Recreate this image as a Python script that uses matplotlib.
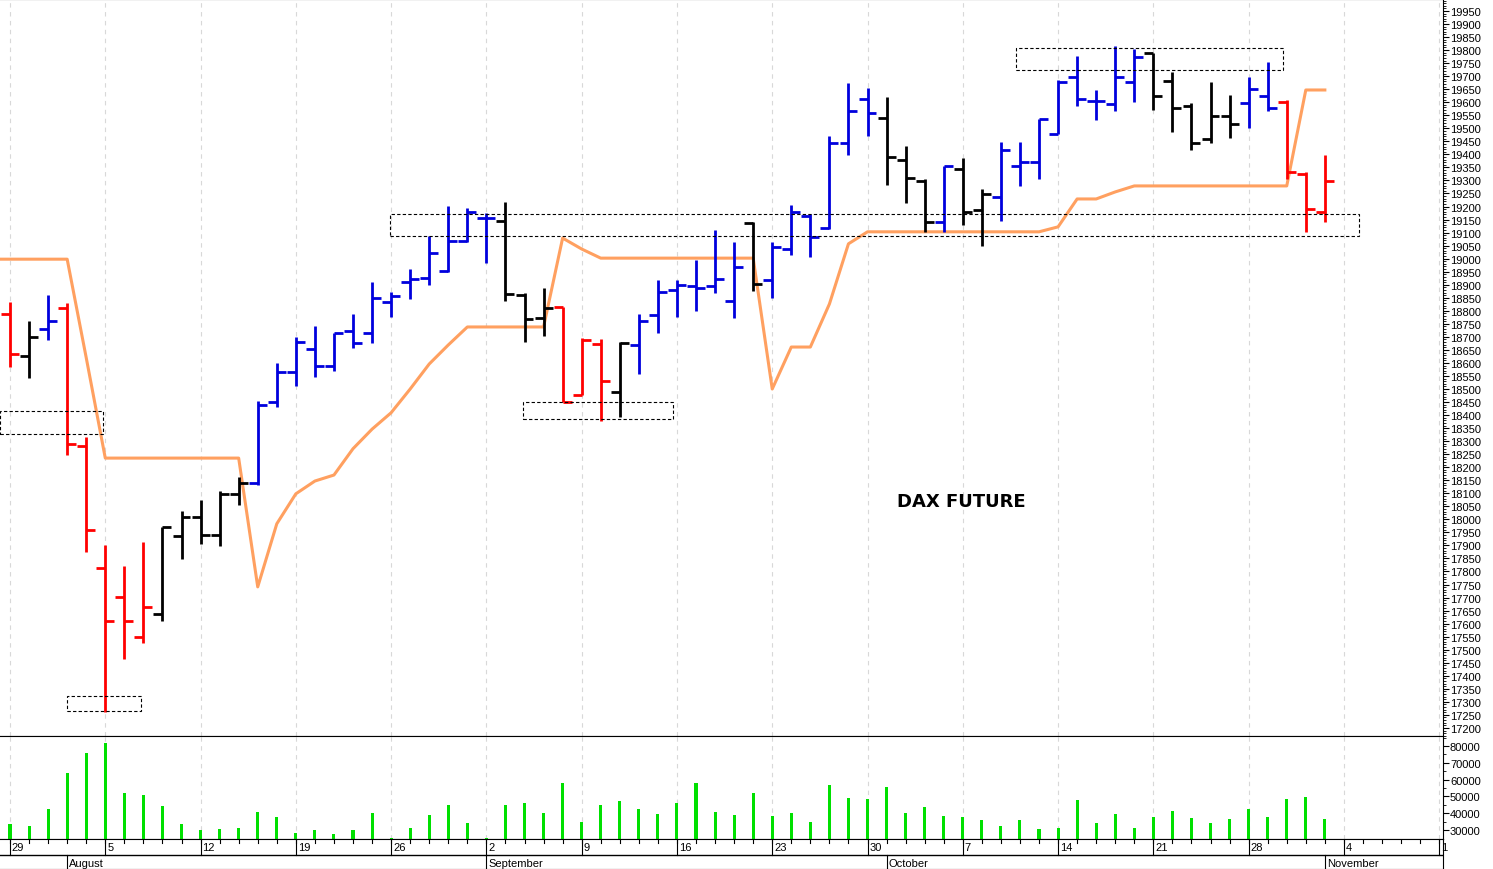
import matplotlib
matplotlib.use("Agg")
import matplotlib.pyplot as plt
from matplotlib.patches import Rectangle
import numpy as np

# ---- data (index 0 = Jul 29, trading days) ----
opens = [18789,18628,18729,18810,18282,17813,17701,17550,17637,17937,18009,17940,18097,18139,
         18449,18564,18653,18590,18721,18715,18833,18910,18925,18953,19069,19155,19145,18860,18772,
         18814,18476,18671,18490,18669,18784,18881,18894,18894,18837,19135,18918,19037,19165,19117,
         19443,19613,19539,19380,19299,19142,19345,19188,19235,19356,19369,19479,19696,19606,19593,
         19679,19789,19683,19587,19459,19549,19597,19623,19602,19325,19178]
highs = [18835,18759,18862,18829,18315,17903,17820,17915,17970,18031,18074,18108,18161,18455,
         18600,18699,18741,18715,18786,18910,18874,18959,19088,19202,19195,19174,19216,18868,18887,
         18814,18695,18690,18682,18788,18918,18918,18995,19110,19062,19139,19065,19206,19172,19472,
         19673,19653,19622,19433,19306,19356,19385,19268,19449,19449,19536,19686,19776,19648,19815,
         19804,19789,19717,19597,19677,19629,19696,19756,19609,19332,19399]
lows = [18583,18542,18688,18245,17874,17261,17464,17525,17612,17848,17906,17896,18055,18130,
        18430,18513,18546,18570,18657,18677,18776,18845,18899,18950,19065,18984,18839,18682,18704,
        18449,18476,18379,18392,18557,18713,18776,18798,18868,18773,18877,18851,19014,19005,19114,
        19399,19472,19283,19213,19104,19104,19130,19048,19145,19280,19306,19479,19587,19533,19565,
        19600,19571,19485,19415,19443,19463,19501,19567,19306,19101,19139]
closes = [18634,18699,18760,18289,17961,17609,17609,17662,17970,18009,17940,18097,18139,18439,
          18564,18679,18590,18715,18677,18851,18858,18922,19022,19069,19180,19155,18864,18769,18810,
          18449,18689,18529,18677,18762,18871,18899,18886,18922,18968,18903,19046,19178,19082,19443,
          19565,19559,19389,19308,19142,19354,19178,19247,19415,19369,19536,19679,19613,19606,19696,
          19773,19623,19576,19443,19549,19517,19651,19578,19332,19191,19299]
bar_colors = (["r","k","b"] + ["r"]*5 + ["k"]*5 + ["b"]*13 + ["k"]*3 + ["r"]*3 + ["k"] + ["b"]*6
              + ["k"] + ["b"]*6 + ["k"]*3 + ["b"] + ["k"]*2 + ["b"]*8 + ["k"]*5 + ["b"]*2 + ["r"]*3)
volumes = [33600,32400,42500,64000,76000,82000,52000,51000,44000,33600,30000,30600,31000,41000,
           38000,28000,30000,27600,30000,40000,25000,31400,39000,45000,34000,25500,45000,46000,40000,
           58000,35000,45000,47000,42500,39700,46000,58000,40700,39000,51800,38500,39900,34800,56600,
           49000,48300,55400,39900,43700,38300,37500,35700,32400,35900,30400,31200,47600,34000,39300,
           31200,37500,41100,36900,34000,36300,42300,37500,48600,49600,36300]
orange = [18998,18998,18998,18998,18620,18235,18235,18235,18235,18235,18235,18235,18235,17741,
          17983,18098,18147,18170,18271,18346,18409,18500,18596,18669,18738,18738,18738,18738,18738,
          19079,19037,19002,19002,19002,19002,19002,19002,19002,19002,19002,18500,18661,18661,18826,
          19057,19103,19103,19103,19103,19103,19103,19103,19103,19103,19103,19122,19229,19229,19256,
          19279,19279,19279,19279,19279,19279,19279,19279,19279,19647,19647]
# boxes: (x0, x1, low, high) in bar index / price
boxes = [(-0.52, 4.88, 18328, 18416), (2.99, 6.87, 17265, 17323), (19.94, 70.8, 19087, 19172),
         (26.9, 34.8, 18385, 18450), (52.8, 66.8, 19724, 19808)]
day_labels = ["29","5","12","19","26","2","9","16","23","30","7","14","21","28","4","1"]
month_labels = ["August","September","October","November"]
month_idx = [3, 25, 46, 69]

cmap = {"r": "#ff0000", "k": "#000000", "b": "#0000dd"}
W, H = 1493, 870
fig = plt.figure(figsize=(W/100, H/100), dpi=100)
xl = (-0.525, 75.2)
axr = 1443/W
ax = fig.add_axes([0, (H-737)/H, axr, 737/H])
axv = fig.add_axes([0, (H-840)/H, axr, 103/H])
axd = fig.add_axes([0, 0, axr, 30/H])

n = len(closes)
x = np.arange(n)
mondays = np.arange(0, 80, 5)
for a in (ax, axv):
    a.set_xlim(*xl)
    for m in mondays:
        a.axvline(m, color="#d8d8d8", lw=0.8, ls=(0, (4, 4)), zorder=0)

for i in range(n):
    c = cmap[bar_colors[i]]
    ax.plot([i, i], [lows[i], highs[i]], color=c, lw=2.0, solid_capstyle="butt", zorder=3)
    ax.plot([i-0.47, i], [opens[i], opens[i]], color=c, lw=2.0, solid_capstyle="butt", zorder=3)
    ax.plot([i, i+0.47], [closes[i], closes[i]], color=c, lw=2.0, solid_capstyle="butt", zorder=3)
ax.plot(np.concatenate([[-0.6], x]), [orange[0]] + orange, color="#ffa060", lw=2.2, zorder=2)
for x0, x1, lo, hi in boxes:
    ax.add_patch(Rectangle((x0, lo), x1-x0, hi-lo, fill=False, ls=(0, (3, 2)), lw=0.8, ec="k", zorder=4))
ax.text(49.9, 18070, "DAX FUTURE", fontsize=13, fontweight="bold", ha="center", va="center")
ax.set_ylim(17169, 19996)
ax.yaxis.tick_right()
ax.set_yticks(np.arange(17200, 19951, 50))
ax.set_yticklabels([str(v) for v in range(17200, 19951, 50)], family="Liberation Sans")
ax.set_yticks(np.arange(17170, 19996, 10), minor=True)
ax.tick_params(axis="y", labelsize=8, length=4, pad=1)
ax.tick_params(axis="y", which="minor", length=2)
ax.set_xticks([])

axv.bar(x, volumes, width=0.16, color="#00e000", zorder=3)
axv.set_ylim(24643, 85952)
axv.yaxis.tick_right()
axv.set_yticks(np.arange(30000, 80001, 10000))
axv.set_yticklabels([str(v) for v in range(30000, 80001, 10000)], family="Liberation Sans")
axv.tick_params(axis="y", labelsize=8, length=4, pad=1)
axv.set_yticks(np.arange(30000, 85001, 5000), minor=True)
axv.tick_params(axis="y", which="minor", length=2)
axv.set_xticks([])

axd.set_xlim(*xl)
axd.set_ylim(0, 30)
axd.set_xticks([]); axd.set_yticks([])
axd.axhline(14, color="k", lw=1)
for d in range(76):
    axd.plot([d, d], [30, 26], color="k", lw=0.8)
for m, lab in zip(mondays, day_labels):
    axd.plot([m, m], [14, 30], color="k", lw=0.8)
    axd.text(m+0.1, 22, lab, fontsize=8, ha="left", va="center", family="Liberation Sans")
for m, lab in zip(month_idx, month_labels):
    axd.plot([m, m], [0, 14], color="k", lw=0.8)
    axd.text(m+0.1, 6, lab, fontsize=8, ha="left", va="center", family="Liberation Sans")
for a in (ax, axv, axd):
    for s in a.spines.values():
        s.set_linewidth(0.8)
ax.spines["left"].set_visible(False)
axv.spines["left"].set_visible(False)
axd.spines["left"].set_visible(False)
fig.savefig("out.png", dpi=100)
